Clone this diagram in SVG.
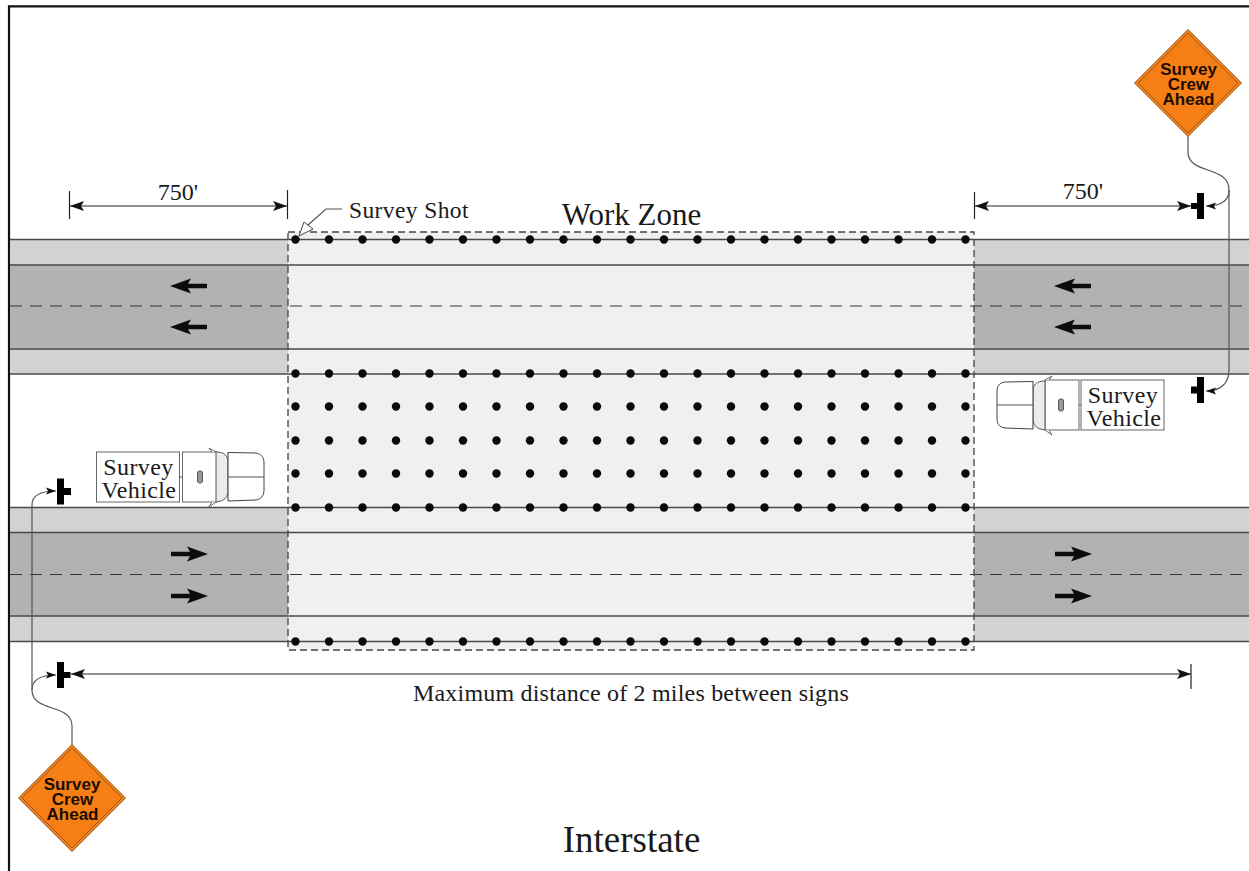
<svg xmlns="http://www.w3.org/2000/svg" width="1249" height="871" viewBox="0 0 1249 871">
<style>
.t{font-family:"Liberation Serif","Times New Roman",serif;fill:#1a1a1a}
.s{font-family:"Liberation Sans",Arial,sans-serif;font-weight:bold;font-size:17px;fill:#1a0d00;text-anchor:middle}
.e{fill:none;stroke:#4a4a4a;stroke-width:1.3}
.d{fill:none;stroke:#222;stroke-width:1.2}
.l{fill:none;stroke:#555;stroke-width:1.2}
.fa{fill:#0c0c0c;stroke:none}
.veh{fill:#fff;stroke:#666;stroke-width:1}
</style>
<defs>
<marker id="a" markerUnits="userSpaceOnUse" markerWidth="16" markerHeight="12" refX="14" refY="6" orient="auto-start-reverse"><path d="M0 1 L14 6 L0 11 L3 6Z" fill="#111"/></marker>
<marker id="b" markerUnits="userSpaceOnUse" markerWidth="12" markerHeight="10" refX="10" refY="5" orient="auto"><path d="M0 1.500 L10 5 L0 8.500 L2 5Z" fill="#111"/></marker>
<g id="arrowL"><path class="fa" d="M-19 0 L2 -7.500 L-1 -2.200 L18 -2.200 L18 2.200 L-1 2.200 L2 7.500Z"/></g>
<g id="arrowR"><path class="fa" d="M19 0 L-2 -7.500 L1 -2.200 L-18 -2.200 L-18 2.200 L1 2.200 L-2 7.500Z"/></g>
<circle id="p" r="4.200" fill="#0a0a0a"/>
<g id="sign"><path d="M0 -53.500 L53.500 0 L0 53.500 L-53.500 0Z" fill="#f57f14" stroke="#9a5a20" stroke-width="1"/><path d="M0 -50 L50 0 L0 50 L-50 0Z" fill="none" stroke="#9a5a20" stroke-width="1"/></g>
<g id="post"><rect x="-3.500" y="-13" width="7" height="26" fill="#000"/></g>
</defs>
<rect width="1249" height="871" fill="#fff"/>
<path d="M9 871 V6.300 H1249" fill="none" stroke="#111" stroke-width="2.200"/>

<g id="roads">
<rect x="10" y="239" width="1239" height="135" fill="#d2d2d2"/>
<rect x="10" y="265" width="1239" height="84" fill="#b2b2b2"/>
<rect x="10" y="507" width="1239" height="135" fill="#d2d2d2"/>
<rect x="10" y="532" width="1239" height="84" fill="#b2b2b2"/>
</g>
<g id="work-zone">
<rect x="288" y="232" width="686" height="418" fill="#f0f0f0"/>
<path d="M10 239.500H1249M10 265H1249M10 349H1249M10 374H1249M10 507.500H1249M10 532.500H1249M10 616H1249M10 641.500H1249" class="e"/>
<path d="M10 306H1249M10 574.500H1249" fill="none" stroke="#333" stroke-width="1.200" stroke-dasharray="12 8"/>
<rect x="288" y="232" width="686" height="418" fill="none" stroke="#444" stroke-width="1.300" stroke-dasharray="7 4"/>
</g>

<g id="traffic-arrows">
<use href="#arrowL" x="189" y="286"/><use href="#arrowL" x="189" y="327"/>
<use href="#arrowL" x="1073" y="286"/><use href="#arrowL" x="1073" y="327"/>
<use href="#arrowR" x="189" y="554"/><use href="#arrowR" x="189" y="596"/>
<use href="#arrowR" x="1073" y="554"/><use href="#arrowR" x="1073" y="596"/>
</g>

<g id="survey-points">
<g id="row1"><use href="#p" x="295.500" y="239.500"/><use href="#p" x="329" y="239.500"/><use href="#p" x="362.500" y="239.500"/><use href="#p" x="396" y="239.500"/><use href="#p" x="429.500" y="239.500"/><use href="#p" x="463" y="239.500"/><use href="#p" x="496.500" y="239.500"/><use href="#p" x="530" y="239.500"/><use href="#p" x="563.500" y="239.500"/><use href="#p" x="597" y="239.500"/><use href="#p" x="630.500" y="239.500"/><use href="#p" x="664" y="239.500"/><use href="#p" x="697.500" y="239.500"/><use href="#p" x="731" y="239.500"/><use href="#p" x="764.500" y="239.500"/><use href="#p" x="798" y="239.500"/><use href="#p" x="831.500" y="239.500"/><use href="#p" x="865" y="239.500"/><use href="#p" x="898.500" y="239.500"/><use href="#p" x="932" y="239.500"/><use href="#p" x="965.500" y="239.500"/></g>
<use href="#row1" y="134"/>
<use href="#row1" y="167"/>
<use href="#row1" y="201"/>
<use href="#row1" y="234"/>
<use href="#row1" y="268"/>
<use href="#row1" y="402"/>
</g>

<g id="connectors">
<path class="d" d="M70 206H287" marker-start="url(#a)" marker-end="url(#a)"/>
<path class="d" d="M975 206H1191" marker-start="url(#a)" marker-end="url(#a)"/>
<path class="d" d="M71 674H1191" marker-start="url(#a)" marker-end="url(#a)"/>
<path class="d" d="M69.500 191V219M287.500 190V219M974.500 192V219M1191 664V689"/>
<path class="l" d="M1188 136 V152 C1188 175 1229 165 1229 190 C1229 200 1222 206 1206 206" marker-end="url(#b)"/>
<path class="l" d="M1229 190 V370 C1229 382 1222 391 1206 391" marker-end="url(#b)"/>
<path class="l" d="M72 745 V726 C72 703 32 713 32 690 C32 680 40 675 56 675" marker-end="url(#b)"/>
<path class="l" d="M32 690 V505 C32 495 40 491 56 491" marker-end="url(#b)"/>
<path class="l" d="M308 225 L326 209 H342"/>
<path d="M299 236 L304 222 L313 229Z" fill="#fff" stroke="#444" stroke-width="1"/>
</g>

<g id="sign-ne"><use href="#sign" x="1188" y="83"/>
<text class="s" x="1188.500" y="75">Survey</text><text class="s" x="1188.500" y="90">Crew</text><text class="s" x="1188.500" y="105">Ahead</text></g>
<g id="sign-sw"><use href="#sign" x="72" y="798"/>
<text class="s" x="72" y="790">Survey</text><text class="s" x="72.500" y="805">Crew</text><text class="s" x="72.500" y="819.500">Ahead</text></g>

<g id="post-1"><use href="#post" x="1200.500" y="206"/><rect x="1191" y="203" width="6" height="6" fill="#000"/></g>
<g id="post-2"><use href="#post" x="1200.500" y="390"/><rect x="1191" y="386.500" width="6" height="7" fill="#000"/></g>
<g id="post-3"><use href="#post" x="60.500" y="491.500"/><rect x="64" y="488" width="7" height="7" fill="#000"/></g>
<g id="post-4"><use href="#post" x="60.500" y="675"/><rect x="64" y="672" width="6.500" height="6" fill="#000"/></g>

<g id="vehicle-east">
<rect class="veh" x="1081" y="380" width="83" height="50"/>
<text class="t" x="1123" y="403" font-size="24" text-anchor="middle" letter-spacing=".4">Survey</text>
<text class="t" x="1124" y="426" font-size="24" text-anchor="middle" letter-spacing=".4">Vehicle</text>
<rect class="veh" x="1045" y="380" width="34" height="50"/>
<path d="M1079 405H1081" class="l"/>
<path class="veh" d="M1045 380L1052 376L1049 380M1045 430L1052 435L1049 430"/>
<path d="M1045 381C1036 381 1033 385 1033 392V418C1033 425 1036 429 1045 430Z" fill="#ececec" stroke="#555"/>
<path d="M1033 381.500L1005 382C999 383 997 386 997 392V418C997 424 999 427 1005 428L1033 429" fill="#fff" stroke="#444"/>
<path d="M997 405H1033M1033 381V429" class="l"/>
<rect x="1058.500" y="399" width="5" height="12" rx="2" fill="#999" stroke="#555"/>
</g>

<g id="vehicle-west">
<rect class="veh" x="96.500" y="452" width="83" height="50"/>
<text class="t" x="138.500" y="475" font-size="24" text-anchor="middle" letter-spacing=".4">Survey</text>
<text class="t" x="139" y="497.500" font-size="24" text-anchor="middle" letter-spacing=".4">Vehicle</text>
<rect class="veh" x="182.500" y="452" width="34" height="50"/>
<path d="M180 477H182" class="l"/>
<path class="veh" d="M216 452L209 448L212 452M216 502L209 507L212 502"/>
<path d="M216 452C225 452 228 456 228 463V490C228 497 225 501 216 502Z" fill="#ececec" stroke="#555"/>
<path d="M228 452.500L256 453C261 454 264 457 264 463V490C264 496 261 499 256 500L228 501" fill="#fff" stroke="#444"/>
<path d="M228 477H264M228 452V501" class="l"/>
<rect x="197.500" y="471" width="5" height="12" rx="2" fill="#999" stroke="#555"/>
</g>

<g id="labels">
<text class="t" x="178" y="200" font-size="24" text-anchor="middle">750'</text>
<text class="t" x="1083" y="199" font-size="24" text-anchor="middle">750'</text>
<text class="t" x="349" y="218" font-size="23.500" letter-spacing=".4">Survey Shot</text>
<text class="t" x="631.500" y="225" font-size="31" text-anchor="middle">Work Zone</text>
<text class="t" x="631" y="701" font-size="24" text-anchor="middle" letter-spacing=".2">Maximum distance of 2 miles between signs</text>
<text class="t" x="631.500" y="852" font-size="37" text-anchor="middle">Interstate</text>
</g>
</svg>
